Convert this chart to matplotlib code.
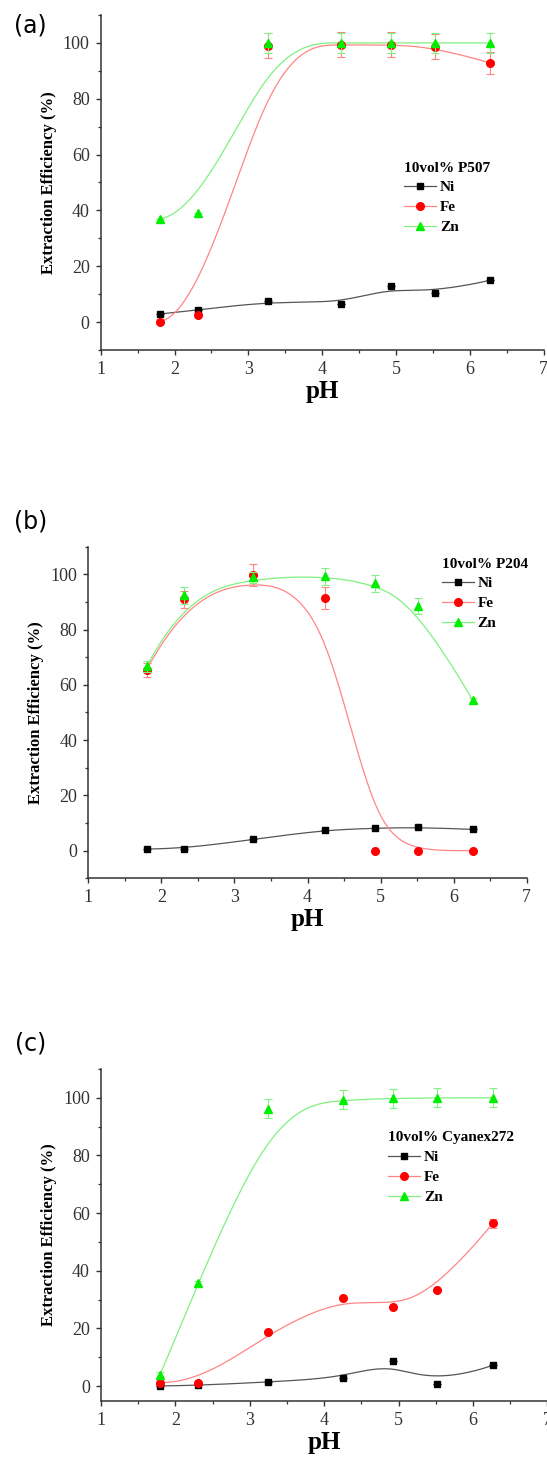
import numpy as np
import matplotlib
matplotlib.use("Agg")
import matplotlib.pyplot as plt
from matplotlib.lines import Line2D
from matplotlib.ticker import MultipleLocator

# pH values and extraction efficiencies (%)
ph_a = [1.80, 2.32, 3.26, 4.26, 4.93, 5.53, 6.28]
ni_a = [2.9, 4.3, 7.7, 6.5, 12.8, 10.5, 15.0]
fe_a = [0.2, 2.6, 99.0, 99.3, 99.3, 98.6, 92.8]
zn_a = [37.0, 39.1, 100.0, 100.0, 100.0, 100.0, 100.0]
ni_err_a = [0, 0, 0, 0, 0, 0, 0]
fe_err_a = [0, 0, 4.5, 4.5, 4.5, 4.5, 4.0]
zn_err_a = [0, 0, 3.5, 3.5, 3.5, 3.5, 3.5]

ph_b = [1.80, 2.31, 3.25, 4.24, 4.92, 5.51, 6.26]
ni_b = [0.6, 0.7, 4.1, 7.5, 8.1, 8.5, 7.7]
fe_b = [65.5, 90.9, 99.6, 91.3, 0.0, 0.0, 0.0]
zn_b = [66.7, 92.4, 99.0, 99.3, 96.7, 88.5, 54.4]
ni_err_b = [0, 0, 0, 0, 0, 0, 0]
fe_err_b = [2.5, 3.0, 4.0, 4.0, 0, 0, 0]
zn_err_b = [2.0, 3.0, 2.0, 3.0, 3.0, 3.0, 1.0]

ph_c = [1.79, 2.31, 3.25, 4.25, 4.92, 5.52, 6.27]
ni_c = [0.0, 0.2, 1.4, 2.8, 8.7, 0.6, 7.2]
fe_c = [1.2, 1.0, 18.8, 30.6, 27.3, 33.2, 56.5]
zn_c = [3.7, 35.6, 96.2, 99.3, 99.8, 100.0, 100.0]
ni_err_c = [0, 0, 0, 0, 0, 0, 0]
fe_err_c = [0, 0, 0, 0, 0, 0, 1.5]
zn_err_c = [1.0, 1.0, 3.3, 3.3, 3.3, 3.3, 3.3]

panel_tags = ["(a)", "(b)", "(c)"]
extractants = ["10vol% P507", "10vol% P204", "10vol% Cyanex272"]
metals = ["Ni", "Fe", "Zn"]

panels = [
    (ph_a, [ni_a, fe_a, zn_a], [ni_err_a, fe_err_a, zn_err_a]),
    (ph_b, [ni_b, fe_b, zn_b], [ni_err_b, fe_err_b, zn_err_b]),
    (ph_c, [ni_c, fe_c, zn_c], [ni_err_c, fe_err_c, zn_err_c]),
]

W, H = 547, 1461
# axes boxes in pixels: left, top, right, bottom
boxes = [(100.8, 15.0, 543.5, 350.0),
         (88.3, 546.7, 526.8, 878.3),
         (101.0, 1069.0, 547.3, 1400.7)]
ylims = [(-10, 110), (-10, 110), (-5.1, 110)]
tag_pos = [(30, 25), (31, 521.7), (31, 1043.3)]
legend_pos = [(404, 161.5), (441.5, 557.5), (388, 1131.5)]

marker_col = ["black", "#ff0000", "#00ee00"]
line_col = ["#555555", "#ff8585", "#80f080"]
markers = ["s", "o", "^"]
msizes = [5, 5.5, 6.2]

serif = "Liberation Serif"


def bspline(xs, ys, num=300):
    # clamped cubic B-spline with the data points as control points
    p = np.column_stack([xs, ys])
    n = len(p)
    k = 3
    knots = np.concatenate([[0] * k, np.arange(n - k + 1), [n - k] * k]).astype(float)
    t = np.linspace(0, n - k, num)
    t[-1] -= 1e-9

    def basis(i, d, t):
        if d == 0:
            return ((knots[i] <= t) & (t < knots[i + 1])).astype(float)
        out = np.zeros_like(t)
        den1 = knots[i + d] - knots[i]
        if den1 > 0:
            out += (t - knots[i]) / den1 * basis(i, d - 1, t)
        den2 = knots[i + d + 1] - knots[i + 1]
        if den2 > 0:
            out += (knots[i + d + 1] - t) / den2 * basis(i + 1, d - 1, t)
        return out

    B = np.array([basis(i, k, t) for i in range(n)])
    c = B.T @ p
    return c[:, 0], c[:, 1]


fig = plt.figure(figsize=(W / 100, H / 100), dpi=100)

for idx, (ph, series, errs) in enumerate(panels):
    l, t, r, b = boxes[idx]
    ax = fig.add_axes([l / W, 1 - b / H, (r - l) / W, (b - t) / H])

    for j in range(3):
        sx, sy = bspline(ph, series[j])
        ax.plot(sx, sy, color=line_col[j], lw=0.9, zorder=2 + j)
        ax.errorbar(ph, series[j], yerr=errs[j], fmt=markers[j], ms=msizes[j],
                    color=marker_col[j], ecolor=line_col[j], elinewidth=0.8,
                    capsize=2.8, capthick=0.8, zorder=5 + j)

    ax.set_xlim(1, 7)
    ax.set_ylim(*ylims[idx])
    ax.xaxis.set_major_locator(MultipleLocator(1))
    ax.xaxis.set_minor_locator(MultipleLocator(0.5))
    ax.yaxis.set_major_locator(MultipleLocator(20))
    ax.yaxis.set_minor_locator(MultipleLocator(10))
    ax.set_yticks([0, 20, 40, 60, 80, 100])

    for s in ["top", "right"]:
        ax.spines[s].set_visible(False)
    for s in ["left", "bottom"]:
        ax.spines[s].set_color("#333333")
        ax.spines[s].set_linewidth(1.1)
    ax.tick_params(which="major", direction="out", length=3.5, width=1.0,
                   color="#333333", labelsize=13, pad=4.5)
    ax.tick_params(which="minor", direction="out", length=2, width=0.9,
                   color="#333333")
    for lab in ax.get_xticklabels() + ax.get_yticklabels():
        lab.set_fontfamily(serif)
        lab.set_color("#333333")

    ax.set_xlabel("pH", fontfamily=serif, fontweight="bold", fontsize=18,
                  labelpad=1.5)
    ax.set_ylabel("Extraction Efficiency (%)", fontfamily=serif,
                  fontweight="bold", fontsize=12, labelpad=4.5)

    handles = [Line2D([], [], color=line_col[j], lw=0.9, marker=markers[j],
                      ms=msizes[j], mfc=marker_col[j], mec=marker_col[j])
               for j in range(3)]
    lx, ly = legend_pos[idx]
    leg = ax.legend(handles, metals, title=extractants[idx],
                    loc="upper left", bbox_to_anchor=(lx / W, 1 - ly / H),
                    bbox_transform=fig.transFigure, frameon=False,
                    borderpad=0, borderaxespad=0, labelspacing=0.4,
                    handlelength=2.1, handletextpad=0.25,
                    prop={"family": serif, "weight": "bold", "size": 11},
                    title_fontproperties={"family": serif, "weight": "bold",
                                          "size": 11},
                    alignment="left")

    tx, ty = tag_pos[idx]
    fig.text(tx / W, 1 - ty / H, panel_tags[idx], fontsize=17,
             family="DejaVu Sans", ha="center", va="center")

fig.savefig("out.png", dpi=100)
